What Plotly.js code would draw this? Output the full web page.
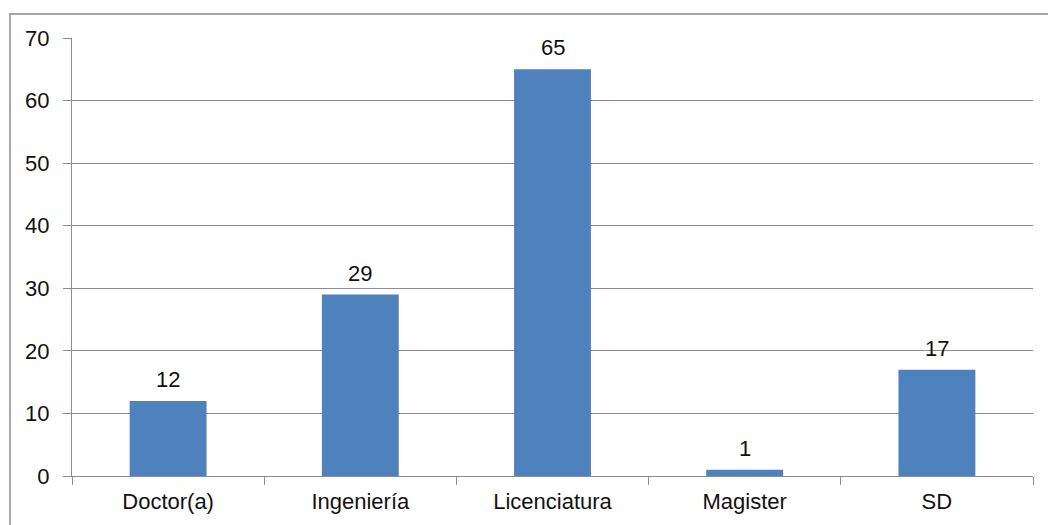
<!DOCTYPE html>
<html><head><meta charset="utf-8">
<script src="https://cdn.plot.ly/plotly-3.0.1.min.js"></script>
<style>html,body{margin:0;padding:0;background:#fff;}#chart{width:1048px;height:525px;}</style>
</head><body><div id="chart"></div>
<script>
var categories = ["Doctor(a)", "Ingeniería", "Licenciatura", "Magister", "SD"];
var values = [12, 29, 65, 1, 17];
var yTicks = [0, 10, 20, 30, 40, 50, 60, 70];

var annotations = categories.map(function(c, i){
  return {x: c, y: values[i], xref: 'x', yref: 'y', text: String(values[i]),
    showarrow: false, yanchor: 'bottom', yshift: 7,
    font: {family: 'Liberation Sans, Arial, sans-serif', size: 22, color: '#111'}};
});

var trace = {type: 'bar', x: categories, y: values,
  marker: {color: '#4f81bd', line: {width: 0}}, width: 0.4, hoverinfo: 'none'};

var layout = {
  width: 1048, height: 525,
  margin: {l: 72, r: 15, t: 38, b: 49},
  paper_bgcolor: '#fff', plot_bgcolor: '#fff',
  showlegend: false,
  font: {family: 'Liberation Sans, Arial, sans-serif', size: 22, color: '#111'},
  xaxis: {type: 'category', tickson: 'boundaries', ticks: 'outside', ticklen: 8,
    tickcolor: '#8c8c8c', showline: true, linecolor: '#8c8c8c', linewidth: 1,
    showgrid: false, zeroline: false, ticklabelstandoff: 6,
    tickfont: {size: 22, color: '#111'}},
  yaxis: {range: [0, 70], tickvals: yTicks, ticks: 'outside', ticklen: 8,
    tickcolor: '#8c8c8c', showline: true, linecolor: '#8c8c8c', linewidth: 1,
    showgrid: true, gridcolor: '#8c8c8c', gridwidth: 1, zeroline: false,
    ticklabelstandoff: 9, tickfont: {size: 22, color: '#111'}},
  annotations: annotations,
  shapes: [{type: 'path', xref: 'paper', yref: 'paper',
    path: 'M -0.0645 -0.3 L -0.0645 1.0548 L 1.05 1.0548',
    line: {color: '#a6a6a6', width: 2}}]
};
Plotly.newPlot('chart', [trace], layout, {staticPlot: true});
</script></body></html>
